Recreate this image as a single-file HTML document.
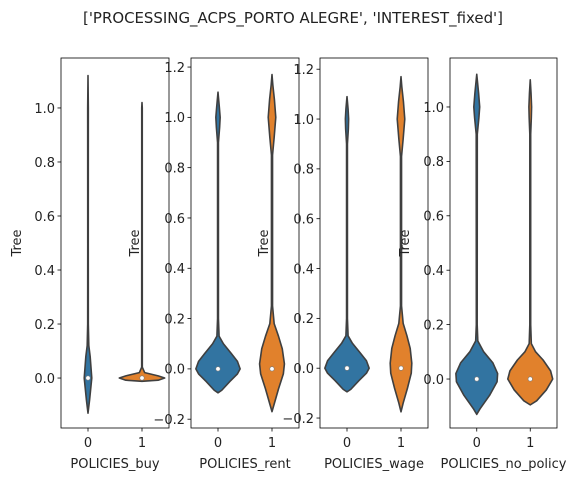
<!DOCTYPE html>
<html><head><meta charset="utf-8">
<style>
html,body{margin:0;padding:0;background:#fff;}
svg text{font-family:"DejaVu Sans","Liberation Sans",sans-serif;fill:#222;}
</style></head>
<body>
<svg id="chart" width="580" height="481" viewBox="0 0 580 481" xmlns="http://www.w3.org/2000/svg">
<text x="293" y="23" text-anchor="middle" font-size="15" textLength="420" lengthAdjust="spacingAndGlyphs">['PROCESSING_ACPS_PORTO ALEGRE', 'INTEREST_fixed']</text>
</svg>
<script>
// Panel categories / labels
const panelLabels = ["POLICIES_buy","POLICIES_rent","POLICIES_wage","POLICIES_no_policy"];
const categories = ["0","1"];
const tickSets = [
  [0.0,0.2,0.4,0.6,0.8,1.0],
  [-0.2,0.0,0.2,0.4,0.6,0.8,1.0,1.2],
  [-0.2,0.0,0.2,0.4,0.6,0.8,1.0,1.2],
  [0.0,0.2,0.4,0.6,0.8,1.0]
];
const yDomains = [[-0.185,1.185],[-0.235,1.236],[-0.24,1.245],[-0.18,1.18]];
// violin shapes: [y value, half-width in category units]
const violinShapes = [
 [
  [[-0.13,0],[-0.08,0.03],[0,0.07],[0.08,0.04],[0.12,0.015],[0.2,0.006],[0.5,0.005],[1.0,0.006],[1.12,0]],
  [[-0.012,0],[-0.008,0.3],[0,0.42],[0.008,0.3],[0.02,0.05],[0.04,0.006],[0.5,0.005],[1.0,0.005],[1.02,0]]
 ],
 [
  [[-0.095,0],[-0.085,0.07],[-0.05,0.22],[-0.02,0.36],[0,0.41],[0.03,0.36],[0.06,0.25],[0.1,0.1],[0.13,0.02],[0.2,0.008],[0.9,0.008],[0.96,0.03],[1.0,0.04],[1.04,0.025],[1.1,0]],
  [[-0.17,0],[-0.14,0.04],[-0.08,0.12],[-0.02,0.21],[0.02,0.23],[0.08,0.19],[0.13,0.12],[0.18,0.04],[0.25,0.01],[0.85,0.01],[0.92,0.04],[1.0,0.07],[1.07,0.045],[1.13,0.015],[1.17,0]]
 ],
 [
  [[-0.095,0],[-0.085,0.07],[-0.05,0.22],[-0.02,0.36],[0,0.41],[0.03,0.36],[0.06,0.25],[0.1,0.1],[0.13,0.02],[0.2,0.008],[0.9,0.008],[0.96,0.025],[1.0,0.03],[1.04,0.02],[1.09,0]],
  [[-0.175,0],[-0.14,0.04],[-0.08,0.12],[-0.02,0.19],[0.02,0.2],[0.08,0.17],[0.13,0.11],[0.18,0.04],[0.25,0.01],[0.85,0.01],[0.92,0.04],[1.0,0.07],[1.07,0.045],[1.13,0.015],[1.17,0]]
 ],
 [
  [[-0.13,0],[-0.11,0.06],[-0.06,0.24],[-0.01,0.38],[0.02,0.39],[0.06,0.3],[0.1,0.13],[0.14,0.02],[0.2,0.008],[0.9,0.01],[0.96,0.04],[1.0,0.055],[1.05,0.035],[1.12,0]],
  [[-0.095,0],[-0.08,0.12],[-0.04,0.3],[0,0.42],[0.03,0.38],[0.07,0.24],[0.1,0.1],[0.13,0.02],[0.2,0.008],[0.9,0.008],[0.96,0.02],[1.0,0.025],[1.05,0.015],[1.1,0]]
 ]
];
const medians = [[0,0],[0,0],[0,0],[0,0]];

const svg = document.getElementById('chart');
const NS = "http://www.w3.org/2000/svg";
const panels = [{x0:61,x1:169,t:58,b:428,yl:16},{x0:191,x1:299,t:58,b:428,yl:134},{x0:320,x1:428,t:58,b:428,yl:263},{x0:450,x1:557,t:58,b:428,yl:404}];
const colors = ["#3274a1","#e1812c"];
function mk(tag, attrs){const e=document.createElementNS(NS,tag);for(const k in attrs)e.setAttribute(k,attrs[k]);svg.appendChild(e);return e;}

panels.forEach((p,pi)=>{
  const dom = yDomains[pi];
  const yS = v => p.b - (v-dom[0])/(dom[1]-dom[0])*(p.b-p.t);
  const xS = c => p.x0 + (c+0.5)/2*(p.x1-p.x0);
  const xW = w => w/2*(p.x1-p.x0);
  violinShapes[pi].forEach((shape,ci)=>{
    const cx = xS(ci);
    let right = shape.map(([y,w])=>[cx+xW(w), yS(y)]);
    let left = shape.slice().reverse().map(([y,w])=>[cx-xW(w), yS(y)]);
    const pts = right.concat(left);
    const path = mk('path',{d:'M'+pts.map(q=>q[0].toFixed(2)+','+q[1].toFixed(2)).join('L')+'Z',fill:colors[ci],stroke:'#3f3f3f','stroke-width':1.6,'stroke-linejoin':'round'});
    
    
    const dot = mk('circle',{cx:cx,cy:yS(medians[pi][ci]),r:2.2,fill:'#fff',stroke:'#777','stroke-width':0.6});
    
    
  });
  const frame = mk('rect',{x:p.x0,y:p.t,width:p.x1-p.x0,height:p.b-p.t,fill:'none',stroke:'#000','stroke-width':0.8});
  
  
  tickSets[pi].forEach(v=>{
    const y=yS(v);
    const tk = mk('line',{x1:p.x0-3.5,x2:p.x0,y1:y,y2:y,stroke:'#000','stroke-width':0.8});
    
    
    const t = mk('text',{x:p.x0-6,y:y+4.8,'text-anchor':'end','font-size':13});
    t.textContent = v<0 ? '\u2212'+Math.abs(v).toFixed(1) : v.toFixed(1);
    
    
  });
  categories.forEach((c,ci)=>{
    const x=xS(ci);
    const tk = mk('line',{x1:x,x2:x,y1:p.b,y2:p.b+3.5,stroke:'#000','stroke-width':0.8});
    
    
    const t = mk('text',{x:x,y:p.b+19,'text-anchor':'middle','font-size':13});
    t.textContent = c;
    
    
  });
  const xl = mk('text',{x:(p.x0+p.x1)/2,y:p.b+40,'text-anchor':'middle','font-size':13});
  xl.textContent = panelLabels[pi];
  
  
  const yl = mk('text',{x:0,y:0,'text-anchor':'middle','font-size':13,transform:'translate('+(p.yl+5)+',243) rotate(-90)'});
  yl.textContent = 'Tree';
  
  
});
</script>
</body></html>
